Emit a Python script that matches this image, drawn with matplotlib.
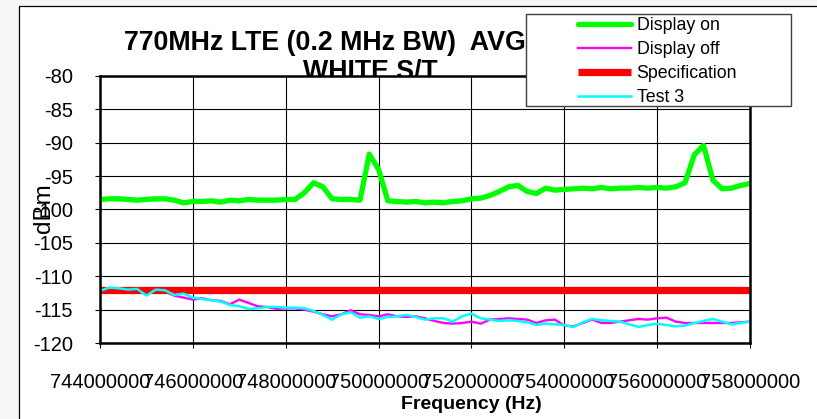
import matplotlib
matplotlib.use('Agg')
import matplotlib.pyplot as plt
from matplotlib.patches import Rectangle

plt.rcParams['font.family'] = ['Liberation Sans', 'DejaVu Sans']
plt.rcParams['axes.unicode_minus'] = False

# ---------------- data ----------------
freq_mhz = [round(744.0 + 0.2 * i, 1) for i in range(71)]  # sample grid, 0.2 MHz step

display_on = [
    -98.5, -98.4, -98.4, -98.5, -98.6, -98.5, -98.4, -98.4, -98.6, -99.0,
    -98.8, -98.8, -98.7, -98.9, -98.6, -98.7, -98.5, -98.6, -98.6, -98.6,
    -98.5, -98.5, -97.5, -96.0, -96.6, -98.4, -98.5, -98.5, -98.6, -91.7,
    -94.0, -98.7, -98.8, -98.9, -98.8, -99.0, -98.9, -99.0, -98.8, -98.7,
    -98.4, -98.3, -97.9, -97.3, -96.6, -96.4, -97.3, -97.6, -96.8, -97.1,
    -97.0, -96.9, -96.8, -96.9, -96.7, -96.9, -96.8, -96.8, -96.7, -96.8,
    -96.7, -96.8, -96.6, -96.0, -91.8, -90.4, -95.6, -96.9, -96.8, -96.4,
    -96.1,
]

display_off = [
    -112.3, -111.9, -112.1, -112.3, -112.2, -112.6, -112.1, -112.3, -112.9, -113.2,
    -113.5, -113.3, -113.6, -113.7, -114.2, -113.5, -114.0, -114.5, -114.6, -114.9,
    -114.8, -114.8, -115.0, -115.3, -115.7, -116.0, -115.7, -115.1, -115.7, -115.8,
    -116.0, -115.7, -116.0, -116.1, -116.0, -116.3, -116.7, -117.0, -117.1, -117.0,
    -116.8, -117.1, -116.5, -116.4, -116.3, -116.4, -116.5, -117.0, -116.6, -116.5,
    -117.4, -117.5, -117.0, -116.5, -117.0, -117.0, -116.8, -116.6, -116.4, -116.5,
    -116.3, -116.2, -116.8, -117.0, -117.0, -117.0, -117.0, -117.0, -117.0, -116.9,
    -116.8,
]

test3 = [
    -112.2, -111.7, -111.8, -112.0, -111.9, -112.9, -112.0, -112.1, -112.8, -112.6,
    -113.2, -113.4, -113.6, -113.8, -114.3, -114.5, -114.9, -114.8, -114.6, -114.6,
    -114.7, -114.7, -114.8, -115.2, -115.8, -116.5, -115.7, -115.4, -116.2, -116.0,
    -116.4, -116.1, -116.0, -115.8, -116.1, -116.5, -116.3, -116.3, -116.8, -116.0,
    -115.6, -116.3, -116.5, -116.7, -116.6, -116.7, -116.9, -117.3, -117.1, -117.2,
    -117.3, -117.6, -116.9, -116.4, -116.6, -116.7, -116.8, -117.2, -117.6, -117.3,
    -117.1, -117.3, -117.5, -117.4, -117.0, -116.7, -116.4, -116.8, -117.2, -117.0,
    -116.8,
]

spec_freq_mhz = [744.0, 758.0]
specification = [-112.0, -112.0]

x_ticks_hz = [744000000, 746000000, 748000000, 750000000, 752000000,
              754000000, 756000000, 758000000]
x_tick_labels = ['744000000', '746000000', '748000000', '750000000',
                 '752000000', '754000000', '756000000', '758000000']
y_ticks = [-120, -115, -110, -105, -100, -95, -90, -85, -80]
y_tick_labels = ['-120', '-115', '-110', '-105', '-100', '-95', '-90', '-85', '-80']

series_names = ['Display on', 'Display off', 'Specification', 'Test 3']

# ---------------- figure ----------------
W, H = 817, 419
fig = plt.figure(figsize=(W / 100, H / 100), dpi=100)
fig.patch.set_facecolor('#f6f6f6')

outer = Rectangle((19 / W, -0.1), 1.2, 1.1 - 6 / H, transform=fig.transFigure,
                  facecolor='white', edgecolor='black', lw=0.9, zorder=-3)
fig.add_artist(outer)

ax = fig.add_axes([100 / W, 1 - 343 / H, 650 / W, 267 / H])
ax.set_facecolor('white')

freq_hz = [f * 1e6 for f in freq_mhz]
spec_hz = [f * 1e6 for f in spec_freq_mhz]

l1, = ax.plot(freq_hz, display_on, color='#00ff00', lw=3.8,
              solid_joinstyle='round', solid_capstyle='round', label=series_names[0])
l2, = ax.plot(freq_hz, display_off, color='#ff00ff', lw=1.7,
              solid_joinstyle='round', label=series_names[1])
l3, = ax.plot(spec_hz, specification, color='#ff0000', lw=5.2,
              solid_capstyle='butt', label=series_names[2])
l4, = ax.plot(freq_hz, test3, color='#00ffff', lw=1.8,
              solid_joinstyle='round', label=series_names[3])

ax.set_xlim(744e6, 758e6)
ax.set_ylim(-120, -80)
ax.set_xticks(x_ticks_hz)
ax.set_xticklabels(x_tick_labels)
ax.set_yticks(y_ticks)
ax.set_yticklabels(y_tick_labels)
ax.grid(True, color='black', lw=0.8)
ax.set_axisbelow(True)
ax.tick_params(axis='both', direction='out', length=3.6, width=0.8,
               labelsize=14.5, colors='black')
ax.tick_params(axis='x', pad=18)
ax.tick_params(axis='y', pad=15.8)
for sp in ax.spines.values():
    sp.set_linewidth(1.8)
    sp.set_color('black')

# titles (behind the plot area, like the original)
fig.text(124 / W, 1 - 50 / H, '770MHz LTE (0.2 MHz BW)  AVG', ha='left', va='baseline',
         fontsize=19.3, fontweight='bold', zorder=-1)
fig.text(370 / W, 1 - 79 / H, 'WHITE S/T', ha='center', va='baseline',
         fontsize=19.3, fontweight='bold', zorder=-1)

fig.text(44 / W, 1 - 208 / H, 'dBm', rotation=90, ha='center', va='center', fontsize=17.5)
fig.text(471 / W, 1 - 404 / H, 'Frequency (Hz)', ha='center', va='center',
         fontsize=14, fontweight='bold')

# legend box
box = Rectangle((526 / W, 1 - 106 / H), 265 / W, 92 / H, transform=fig.transFigure,
                facecolor='white', edgecolor='#404040', lw=1.0, zorder=10)
fig.add_artist(box)
leg = fig.legend(handles=[l1, l2, l3, l4], labels=series_names, loc='upper left',
                 bbox_to_anchor=(578 / W, 1 - 17 / H), frameon=False, borderpad=0,
                 borderaxespad=0, fontsize=12.8, handlelength=3.0, handletextpad=0.3,
                 labelspacing=0.4)
leg.set_zorder(11)

fig.savefig('out.png', dpi=100)
